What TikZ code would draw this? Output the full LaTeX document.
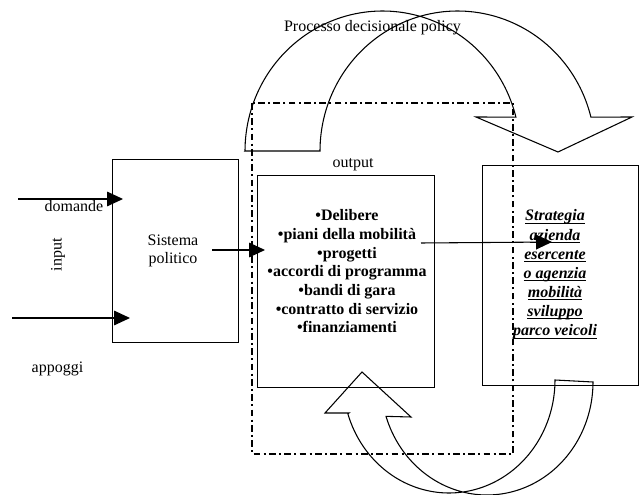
\documentclass[tikz,border=0pt]{standalone}
\usepackage{fontspec}
\setmainfont{Liberation Serif}
\usetikzlibrary{arrows.meta}
\def\myul#1{\setbox0=\hbox{#1}\leavevmode\rlap{\rule[-2.2pt]{\wd0}{0.7pt}}\box0}
\begin{document}
\begin{tikzpicture}[x=0.75pt,y=-0.75pt,
  box/.style={draw, line width=0.8pt, inner sep=0pt, anchor=north west},
  txt/.style={font=\fontsize{12}{14}\selectfont, inner sep=0pt},
  btxt/.style={font=\fontsize{12}{14}\selectfont\bfseries, inner sep=0pt, anchor=base},
  itxt/.style={font=\fontsize{12}{14}\selectfont\bfseries\itshape, inner sep=0pt, anchor=base},
  arr/.style={-{Triangle[length=12pt,width=11pt]}, line width=0.8pt},
  blockarrow/.style={draw, line width=0.8pt, line join=miter},
  dashdot/.style={line width=1.1pt, dash pattern=on 5pt off 2.5pt on 1.5pt off 2.5pt}]
\useasboundingbox (0,0) rectangle (640,495);

% boxes
\node[box, minimum width=94.5pt, minimum height=137.25pt] (sys) at (112,159) {};
\node[box, minimum width=132.75pt, minimum height=159pt] (out) at (257,175) {};
\node[box, minimum width=117pt, minimum height=165pt] (strat) at (482,165) {};

% dash-dot frame
\draw[dashdot] (252,103) rectangle (513,454);

% top curved block arrow
\draw[blockarrow] (245,151) -- (320,151)
  -- plot[domain=180:346,samples=90] ({457.5+137.5*cos(\x)},{151+140*sin(\x)})
  -- (632,117) -- (558,152) -- (476,117)
  -- plot[domain=346:180,samples=90] ({382.5+137.5*cos(\x)},{151+140*sin(\x)})
  -- cycle;

% bottom curved block arrow
\draw[blockarrow] (349,413)
  -- plot[domain=162.6:0,samples=90] ({449+106*cos(\x)},{380+113*sin(\x)})
  -- (593,382)
  -- plot[domain=0:162.3,samples=90] ({487+106*cos(\x)},{382+113*sin(\x)})
  -- (411,417) -- (362,372) -- (325,413) -- cycle;

% texts
\node[txt, anchor=base] (title) at (372.5,32) {Processo decisionale policy};
\node[txt, anchor=base] (outlbl) at (353,168) {output};
\node[txt, anchor=base] (dom) at (74,212) {domande};
\node[txt, anchor=base] (app) at (57.5,373) {appoggi};
\node[txt, rotate=90] (inp) at (58,255) {input};
\node[txt, anchor=base] (sis1) at (173,246) {Sistema};
\node[txt, anchor=base] (sis2) at (173,264) {politico};

\foreach \t [count=\i] in {{•Delibere},{•piani della mobilità},{•progetti},{•accordi di programma},{•bandi di gara},{•contratto di servizio},{•finanziamenti}}
  \node[btxt] (o\i) at (347,{220.7+(\i-1)*18.7}) {\t};

\foreach \t [count=\i] in {{Strategia},{azienda},{esercente},{o agenzia},{mobilità},{sviluppo},{parco veicoli}}
  \node[itxt] (s\i) at (555,{221+(\i-1)*19.1}) {\myul{\t}};

% connectors
\coordinate (dA) at (18,199);  \coordinate (dB) at (123,199);
\coordinate (aA) at (12,318);  \coordinate (aB) at (130,318);
\coordinate (sA) at (212,250); \coordinate (sB) at (265,250);
\coordinate (oA) at (421,243); \coordinate (oB) at (552,242);
\draw[arr] (dA) -- (dB);
\draw[arr] (aA) -- (aB);
\draw[arr] (sA) -- (sB);
\draw[arr] (oA) -- (oB);
\end{tikzpicture}
\end{document}
